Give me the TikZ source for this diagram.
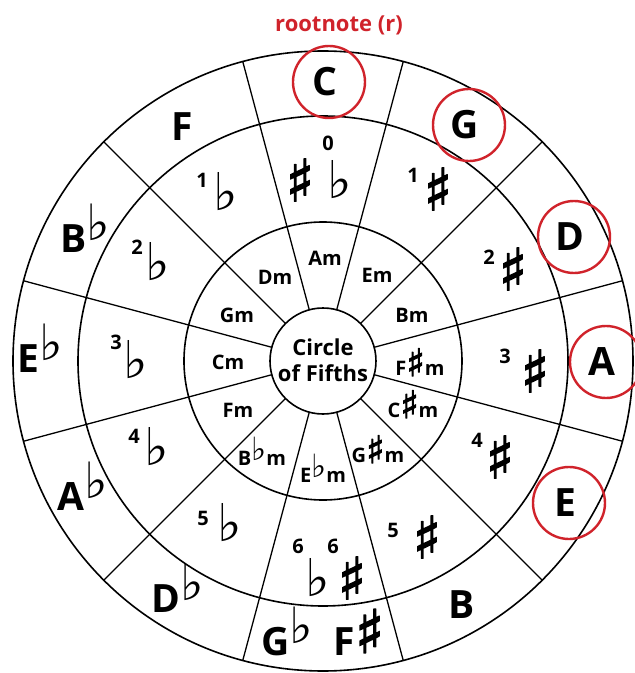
\documentclass[tikz,border=0pt]{standalone}
\usepackage{fontspec}
\setmainfont{Open Sans}
\newfontfamily\musicfont{DejaVu Sans}
\newfontfamily\sharpfont[FakeBold=2.5]{DejaVu Sans}
\usetikzlibrary{positioning}
\definecolor{RootRed}{HTML}{D0232B}
\newcommand{\flatsym}{{\musicfont\char"266D}}
\newcommand{\sharpsym}{{\sharpfont\char"266F}}
% accidentals beside a key letter
\newcommand{\bigflat}{\smash{\raisebox{12pt}{\fontsize{50}{50}\selectfont\flatsym}}}
\newcommand{\bigsharp}{\smash{\raisebox{3pt}{\fontsize{60}{60}\selectfont\sharpsym}}}
\newcommand{\minflat}{\smash{\raisebox{5pt}{\fontsize{32}{32}\selectfont\flatsym}}}
\newcommand{\minsharp}{\smash{\raisebox{-1pt}{\fontsize{38}{38}\selectfont\sharpsym}}}
\tikzset{
  ringline/.style={draw=black,line width=1.6pt},
  spokeline/.style={draw=black,line width=1.3pt},
  keylabel/.style={font=\fontsize{39}{39}\selectfont\bfseries,inner sep=0pt},
  minorlabel/.style={font=\fontsize{20}{20}\selectfont\bfseries,inner sep=0pt},
  centrelabel/.style={font=\fontsize{22}{26}\selectfont\bfseries,align=center,inner sep=0pt},
  numlabel/.style={font=\fontsize{20}{20}\selectfont\bfseries,inner sep=0pt},
  flatlabel/.style={font=\fontsize{52}{52}\selectfont,inner sep=0pt},
  sharplabel/.style={font=\fontsize{58}{58}\selectfont,inner sep=0pt},
  rootmark/.style={circle,draw=RootRed,line width=2.4pt,minimum size=72pt,inner sep=0pt},
  titlelabel/.style={font=\fontsize{22}{22}\selectfont\bfseries,text=RootRed}
}
\begin{document}
\begin{tikzpicture}[x=1pt,y=1pt]
  \useasboundingbox (-323,-312) rectangle (312,361);
  % rings and spokes
  \foreach \r in {53,139,245,310}
    \draw[ringline] (0,0) circle (\r);
  \foreach \a in {15,45,...,345}
    \draw[spokeline] (\a:53) -- (\a:310);

  % centre
  \node[centrelabel] (centre) at (0,1) {Circle\\of Fifths};

  % major keys
  \node[keylabel] (keyC) at (2,279) {C};
  \node[keylabel] (keyG) at (142,236) {G};
  \node[keylabel] (keyD) at (247,124) {D};
  \node[keylabel] (keyA) at (279,-1) {A};
  \node[keylabel] (keyE) at (242,-142) {E};
  \node[keylabel] (keyB) at (139,-244) {B};
  \node[keylabel] (keyFs) at (36,-281) {F\bigsharp};
  \node[keylabel] (keyGb) at (-36,-281) {G\bigflat};
  \node[keylabel] (keyDb) at (-145,-238) {D\bigflat};
  \node[keylabel] (keyAb) at (-240,-136) {A\bigflat};
  \node[keylabel] (keyEb) at (-283,2) {E\bigflat};
  \node[keylabel] (keyBb) at (-238,122) {B\bigflat};
  \node[keylabel] (keyF) at (-141,234) {F};

  % root note marks
  \foreach \k in {C,G,D,A,E}
    \node[rootmark] (mark\k) at ([xshift=4pt]key\k) {};
  \node[titlelabel,above=6pt of markC,xshift=10pt] (rootnote) {rootnote (r)};

  % number of sharps and flats
  \node[numlabel] (num0) at (5,218) {0};
  \node[sharplabel] (acc0s) at (-23,181) {\sharpsym};
  \node[flatlabel] (acc0f) at (17,181) {\flatsym};
  \node[numlabel] (num1s) at (90,186) {1};
  \node[sharplabel] (acc1s) at (115,172) {\sharpsym};
  \node[numlabel] (num2s) at (166,104) {2};
  \node[sharplabel] (acc2s) at (190,92) {\sharpsym};
  \node[numlabel] (num3s) at (182,5) {3};
  \node[sharplabel] (acc3s) at (212,-10) {\sharpsym};
  \node[numlabel] (num4s) at (154,-79) {4};
  \node[sharplabel] (acc4s) at (177,-96) {\sharpsym};
  \node[numlabel] (num5s) at (70,-169) {5};
  \node[sharplabel] (acc5s) at (104,-176) {\sharpsym};
  \node[numlabel] (num6f) at (-25,-185) {6};
  \node[numlabel] (num6s) at (10,-185) {6};
  \node[flatlabel] (acc6f) at (-5,-217) {\flatsym};
  \node[sharplabel] (acc6s) at (29,-217) {\sharpsym};
  \node[numlabel] (num5f) at (-120,-157) {5};
  \node[flatlabel] (acc5f) at (-93,-162) {\flatsym};
  \node[numlabel] (num4f) at (-189,-75) {4};
  \node[flatlabel] (acc4f) at (-166,-86) {\flatsym};
  \node[numlabel] (num3f) at (-207,19) {3};
  \node[flatlabel] (acc3f) at (-187,1) {\flatsym};
  \node[numlabel] (num2f) at (-186,114) {2};
  \node[flatlabel] (acc2f) at (-165,99) {\flatsym};
  \node[numlabel] (num1f) at (-121,181) {1};
  \node[flatlabel] (acc1f) at (-97,169) {\flatsym};

  % relative minors
  \node[minorlabel] (minA) at (2,103) {Am};
  \node[minorlabel] (minE) at (54,86) {Em};
  \node[minorlabel] (minB) at (89,46) {Bm};
  \node[minorlabel] (minFs) at (97,-7) {F\minsharp m};
  \node[minorlabel] (minCs) at (90,-49) {C\minsharp m};
  \node[minorlabel] (minGs) at (55,-94) {G\minsharp m};
  \node[minorlabel] (minEb) at (0,-114) {E\minflat m};
  \node[minorlabel] (minBb) at (-61,-97) {B\minflat m};
  \node[minorlabel] (minF) at (-85,-49) {Fm};
  \node[minorlabel] (minC) at (-95,-1) {Cm};
  \node[minorlabel] (minG) at (-86,46) {Gm};
  \node[minorlabel] (minD) at (-48,84) {Dm};
\end{tikzpicture}
\end{document}
